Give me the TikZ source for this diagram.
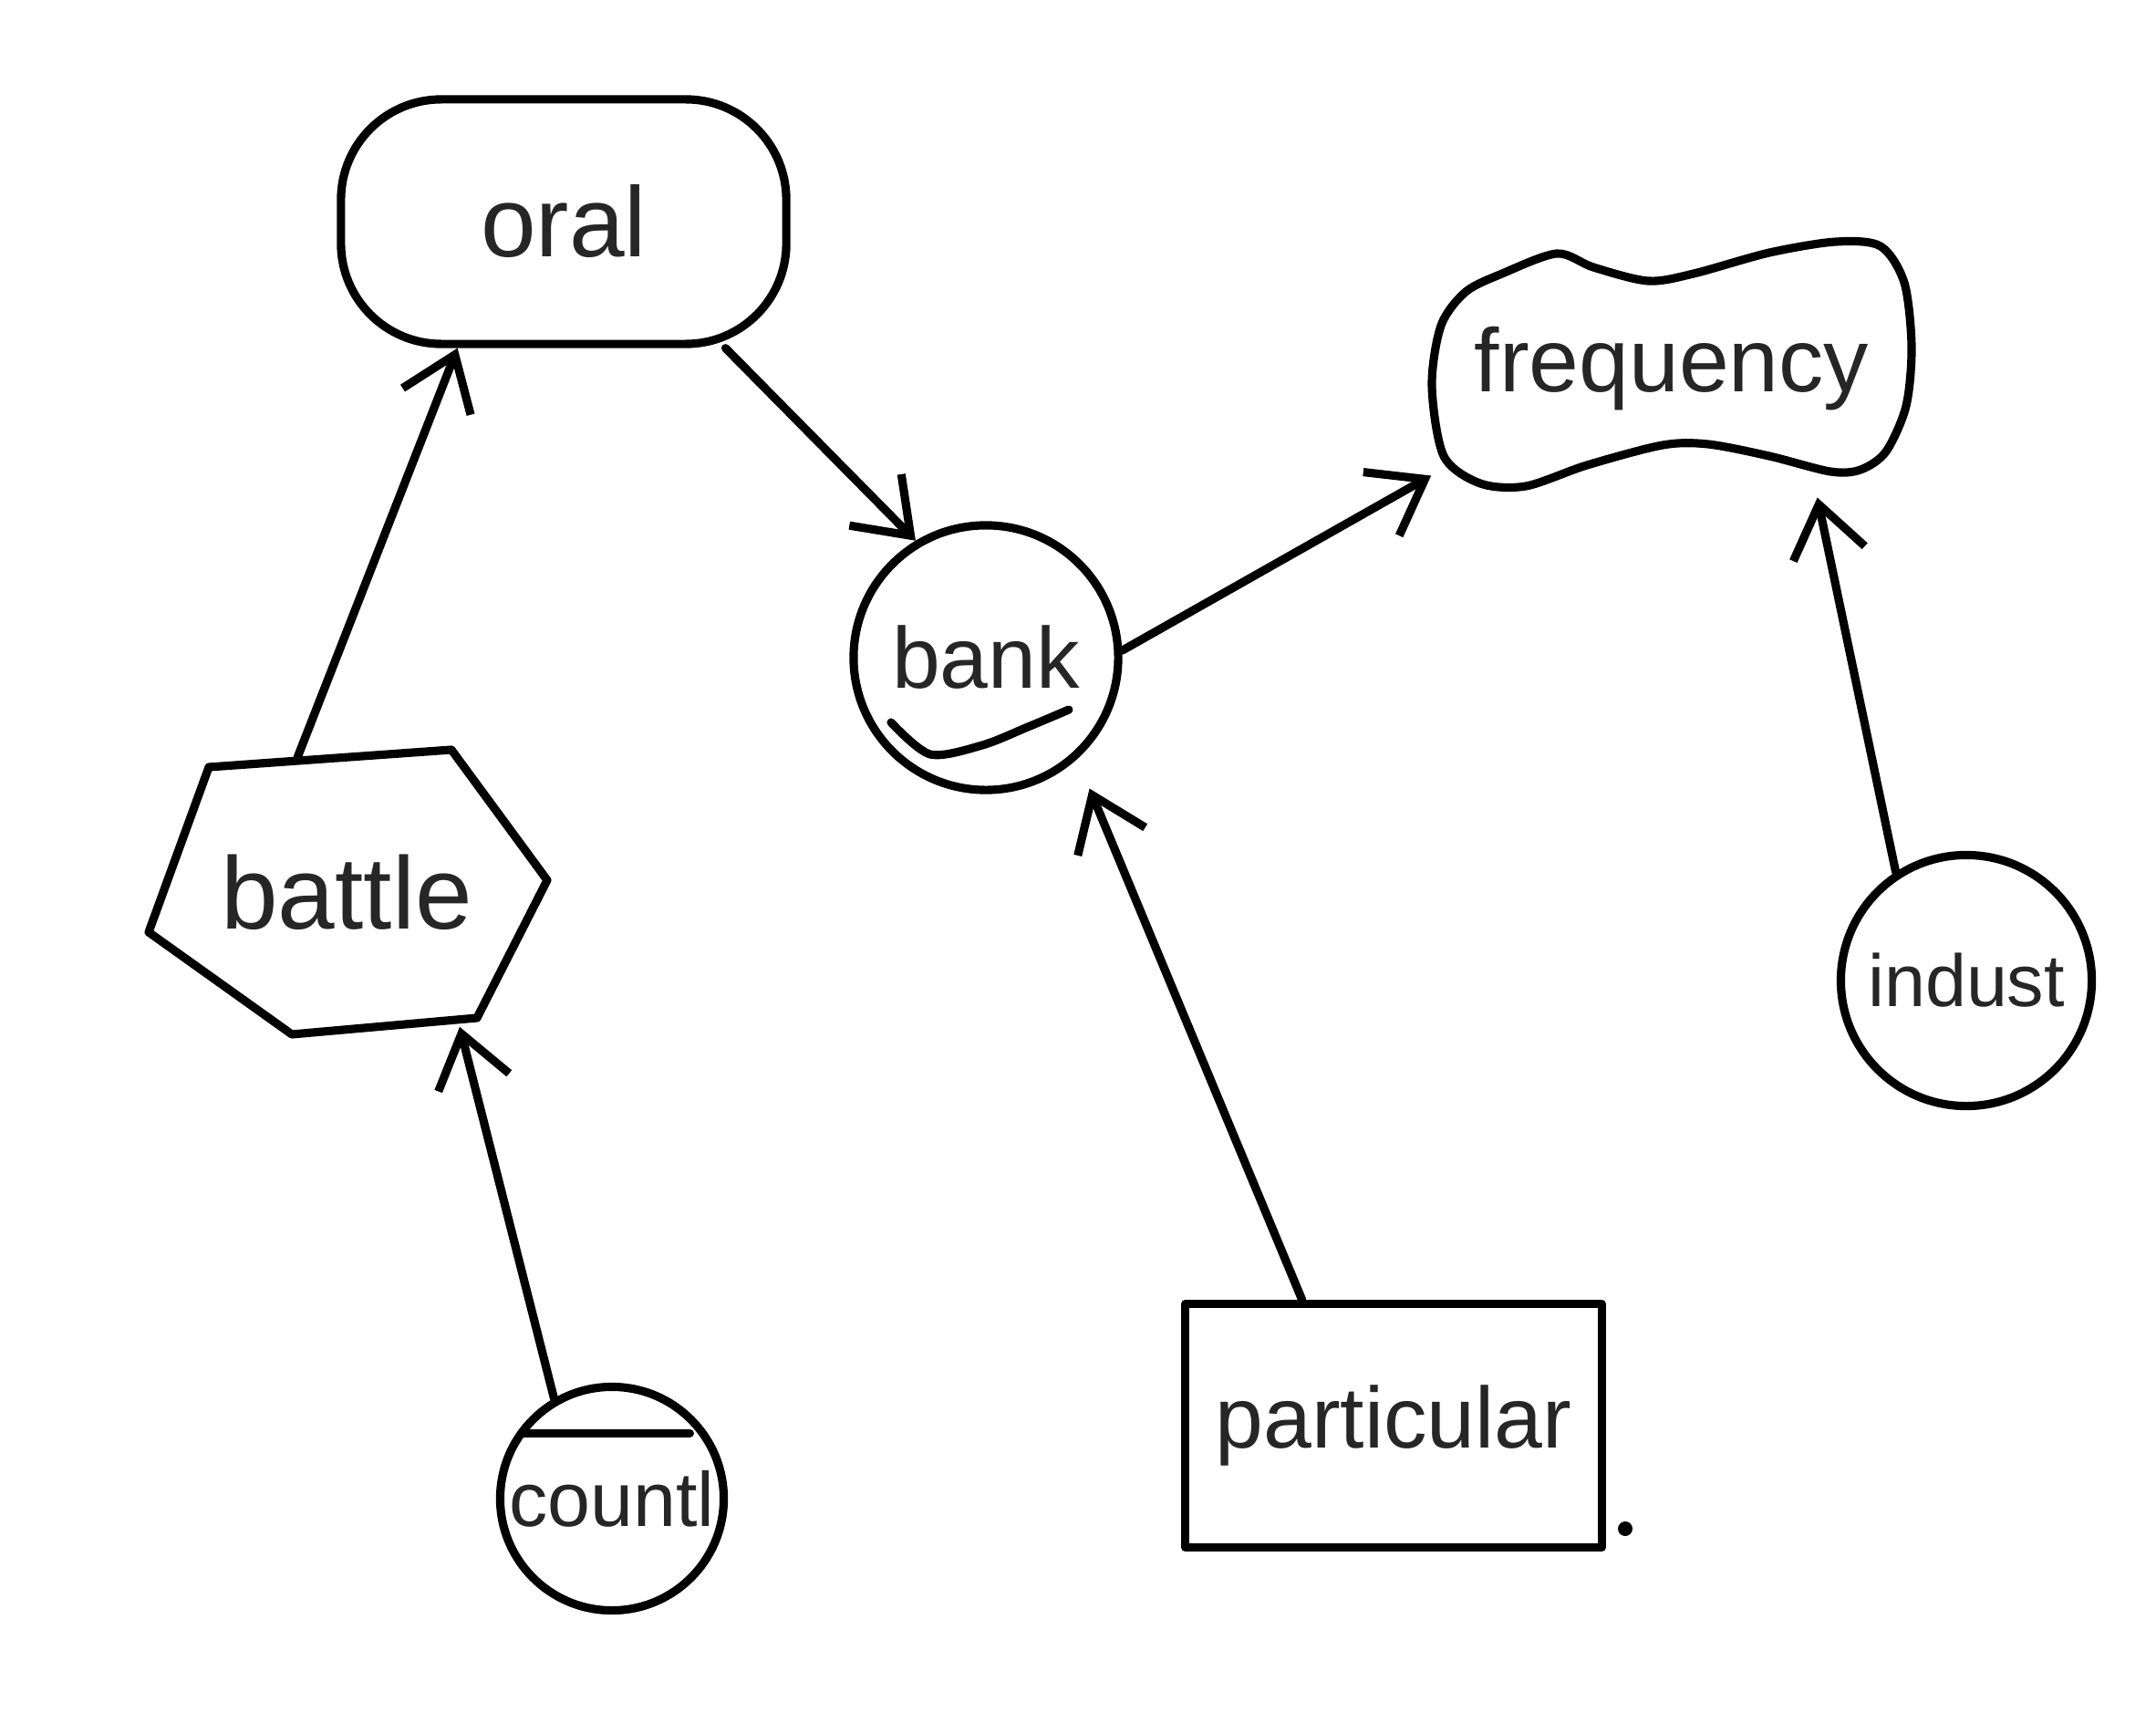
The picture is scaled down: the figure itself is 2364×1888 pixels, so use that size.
\documentclass[tikz,border=0pt]{standalone}
\usepackage{fontspec}
\setmainfont{Liberation Sans}
\usetikzlibrary{arrows.meta,shapes.geometric}

\begin{document}
\begin{tikzpicture}[x=0.01cm,y=-0.01cm,
  every node/.style={text=black!85},
  pt/.style={font=\fontsize{#1}{#1}\selectfont},
  ink/.style={line width=2.6pt, line cap=round, line join=round},
  link/.style={ink, -{Straight Barb[length=0.55cm,width=0.8cm]}},
  ball/.style={ink, draw, circle, inner sep=0pt}]
  \useasboundingbox (0,0) rectangle (2364,1888);

  % Draw the word nodes
  \node[ink, draw, rectangle, rounded corners=1.1cm, minimum width=4.88cm, minimum height=2.68cm, pt=31] (oral) at (618,243) {oral};
  \node[ball, minimum size=2.9cm, pt=27] (bank) at (1081,721) {\makebox[0pt]{bank}};
  \node[minimum width=5.26cm, minimum height=2.52cm, pt=28] (freq) at (1833,404) {frequency};
  \node[minimum width=4.37cm, minimum height=2.94cm, pt=32] (battle) at (380,978) {battle};
  \node[ball, minimum size=2.45cm, pt=24] (countl) at (671,1643) {\makebox[0pt]{countl}};
  \node[ink, draw, rectangle, minimum width=4.56cm, minimum height=2.67cm, pt=27] (particular) at (1528,1563) {particular};
  \node[ball, minimum size=2.75cm, pt=23] (indust) at (2156,1075) {\makebox[0pt]{indust}};

  % Wavy outline round frequency
  \draw[ink] plot[smooth cycle] coordinates {
    (1647,300) (1707,278) (1747,293) (1807,308) (1857,300) (1940,277) (2013,265) (2062,270)
    (2088,310) (2096,380) (2090,445) (2068,495) (2040,515) (2007,517) (1940,500) (1873,487)
    (1823,488) (1740,510) (1673,533) (1623,530) (1583,500) (1570,423) (1580,357) (1607,320)
  };

  % Hexagon round battle
  \draw[ink] (229,841) -- (495,822) -- (600,965) -- (523,1116) -- (320,1134) -- (163,1022) -- cycle;

  % Marks inside bank and countl
  \draw[ink] plot[smooth] coordinates {(977,792) (1020,827) (1077,817) (1127,797) (1172,778)};
  \draw[ink] ([yshift=-0.1cm]countl.140) -- ([xshift=-0.12cm,yshift=-0.1cm]countl.40);
  \fill (1782,1676) circle[radius=0.08cm];

  % Arrows between the nodes
  \draw[link] (battle.110) -- (oral.230);
  \draw[link] (oral.322) -- (bank.121);
  \draw[link] (bank.3) -- (freq.204);
  \draw[link] (countl.120) -- (battle.310);
  \draw[link, shorten >=0.35cm] (particular.126) -- (bank.312);
  \draw[link, shorten >=0.15cm] (indust.123) -- (freq.321);
\end{tikzpicture}
\end{document}
